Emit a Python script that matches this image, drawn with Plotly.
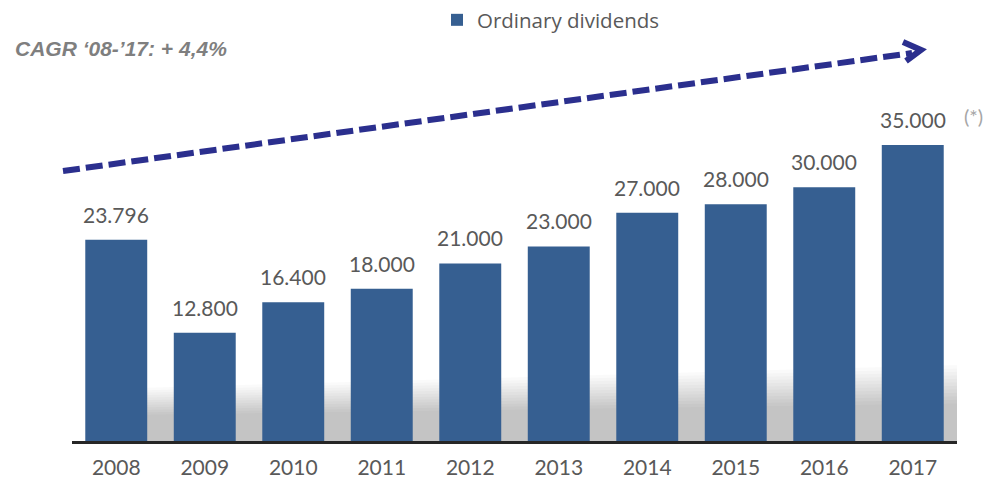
import plotly.graph_objects as go

# Ordinary dividends per year
years = ["2008", "2009", "2010", "2011", "2012", "2013", "2014", "2015", "2016", "2017"]
dividends = [23796, 12800, 16400, 18000, 21000, 23000, 27000, 28000, 30000, 35000]
series_name = "Ordinary dividends"
cagr_label = "CAGR \u201808-\u201917: + 4,4%"
footnote = "(*)"

BAR_COLOR = "#365F91"
ARROW_COLOR = "#2B2F8E"
LABEL_COLOR = "#595959"
FONT = "Lato, 'Open Sans', sans-serif"

W, H = 989, 488
ML, MR, MT, MB = 72, 32, 0, 47
PW, PH = W - ML - MR, H - MT - MB
PX_PER_UNIT = 8.457 / 1000  # vertical pixels per dividend unit


def px_x(px):
    return (px - ML) / PW


def px_y(py):
    return (H - MB - py) / PH


def fmt(v):
    return f"{v:,}".replace(",", ".")


fig = go.Figure()

fig.add_trace(go.Bar(
    x=list(range(len(years))),
    y=dividends,
    name=series_name,
    marker=dict(color=BAR_COLOR, line=dict(width=0)),
    width=0.7,
    showlegend=True,
))

# soft floor shadow behind the bars: stacked translucent bands fading upward
x_left, x_right = 0.31, 9.5
top_left, top_right = 6300, 9000
n_layers = 12
for k in range(n_layers):
    f = 0.45 + 0.55 * (k + 1) / n_layers
    yl, yr = top_left * f, top_right * f
    fig.add_shape(
        type="path", xref="x", yref="y", layer="below",
        path=f"M {x_left},0 L {x_right},0 L {x_right},{yr} L {x_left},{yl} Z",
        fillcolor="rgba(0,0,0,0.018)", line=dict(width=0),
    )

# value labels above the bars
for i, v in enumerate(dividends):
    fig.add_annotation(
        x=i, y=v, xref="x", yref="y",
        text=fmt(v), showarrow=False,
        yanchor="bottom", yshift=11,
        font=dict(family=FONT, size=21, color=LABEL_COLOR),
    )

fig.add_annotation(
    x=px_x(962), y=px_y(116), xref="paper", yref="paper",
    text=footnote, showarrow=False, xanchor="left", yanchor="middle",
    font=dict(family=FONT, size=20, color="#a6a6a6"),
)

fig.add_annotation(
    x=px_x(13), y=px_y(48), xref="paper", yref="paper",
    text=f"<b><i>{cagr_label}</i></b>", showarrow=False,
    xanchor="left", yanchor="middle",
    font=dict(family="Liberation Sans, Arial, sans-serif", size=21, color="#7f7f7f"),
)

# dashed growth arrow
fig.add_shape(
    type="line", xref="paper", yref="paper",
    x0=px_x(63), y0=px_y(171), x1=px_x(912), y1=px_y(53),
    line=dict(color=ARROW_COLOR, width=6, dash="17px,6px"),
)
fig.add_shape(
    type="path", xref="paper", yref="paper",
    path=(f"M {px_x(903)},{px_y(42)} L {px_x(921)},{px_y(50)} "
          f"L {px_x(906)},{px_y(61)}"),
    line=dict(color=ARROW_COLOR, width=6),
)

fig.update_layout(
    width=W, height=H,
    margin=dict(l=ML, r=MR, t=MT, b=MB),
    paper_bgcolor="white", plot_bgcolor="white",
    bargap=0.3,
    showlegend=True,
    legend=dict(
        orientation="h", x=px_x(437), y=px_y(0), xanchor="left", yanchor="top",
        font=dict(family="'Open Sans', sans-serif", size=20.5, color=LABEL_COLOR),
        bgcolor="rgba(0,0,0,0)", itemwidth=30,
    ),
    xaxis=dict(
        range=[-0.5, 9.5],
        tickmode="array", tickvals=list(range(len(years))), ticktext=years,
        tickfont=dict(family=FONT, size=21, color=LABEL_COLOR),
        showgrid=False, zeroline=False,
        showline=True, linecolor="#262626", linewidth=3,
        ticks="", ticklabelstandoff=6,
    ),
    yaxis=dict(
        range=[0, PH / PX_PER_UNIT],
        visible=False, showgrid=False, zeroline=False,
    ),
)

fig.write_html("out.html")
